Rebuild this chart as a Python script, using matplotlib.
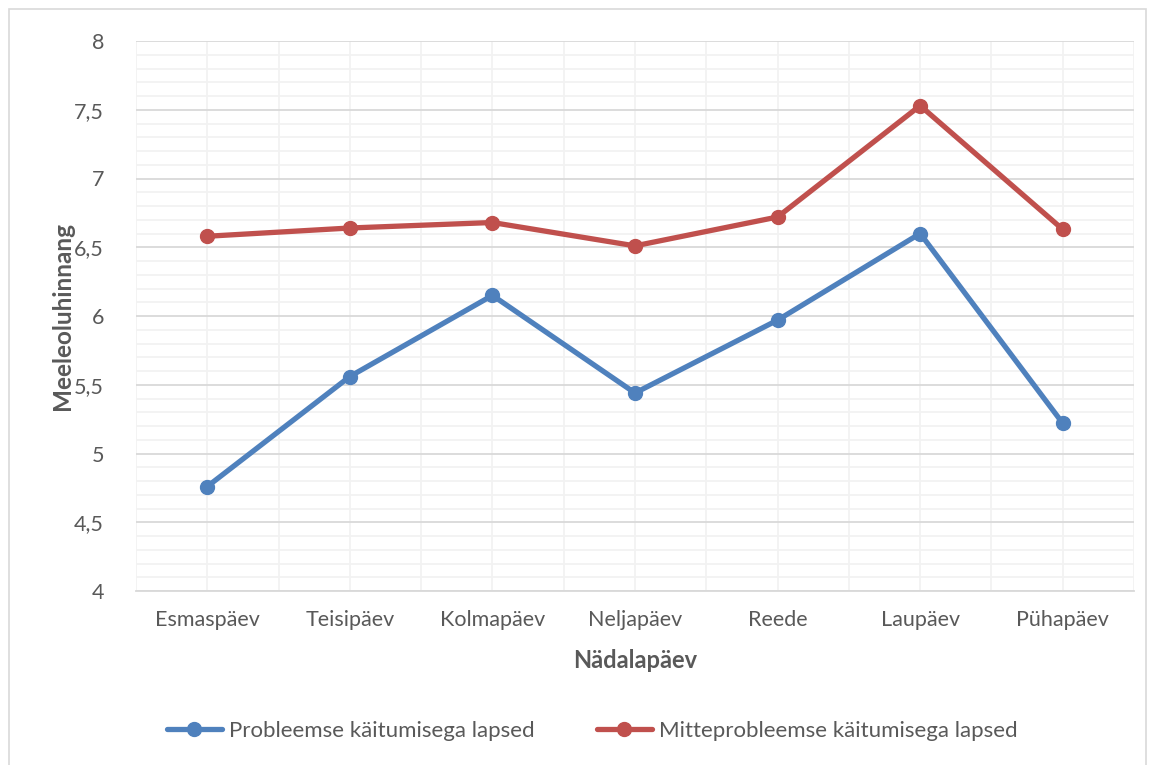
import matplotlib
matplotlib.use("Agg")
import matplotlib.pyplot as plt
from matplotlib.patches import Rectangle
from matplotlib.ticker import MultipleLocator, FuncFormatter

categories = ["Esmaspäev", "Teisipäev", "Kolmapäev", "Neljapäev", "Reede", "Laupäev", "Pühapäev"]
probleemse = [4.76, 5.56, 6.15, 5.44, 5.97, 6.60, 5.22]
mitteprobleemse = [6.58, 6.64, 6.68, 6.51, 6.72, 7.53, 6.63]
series_names = ["Probleemse käitumisega lapsed", "Mitteprobleemse käitumisega lapsed"]
y_label = "Meeleoluhinnang"
x_label = "Nädalapäev"

plt.rcParams['font.family'] = ['Lato', 'DejaVu Sans']
W, H = 1153, 765
fig = plt.figure(figsize=(W/100, H/100), dpi=100)
fig.patch.set_facecolor("white")
fig.patches.append(Rectangle((9/W, -0.01), (1146-9)/W, (H-9)/H + 0.01, transform=fig.transFigure,
                             fill=False, edgecolor="#D9D9D9", linewidth=1.2))

ax = fig.add_axes([136/W, 1-591/H, (1134-136)/W, (591-41)/H])
x = list(range(len(categories)))
blue = "#4F81BD"; red = "#C0504D"; txt = "#595959"
ax.plot(x, probleemse, color=blue, lw=3.8, marker="o", ms=10, label=series_names[0], zorder=3, solid_capstyle="round")
ax.plot(x, mitteprobleemse, color=red, lw=3.8, marker="o", ms=10, label=series_names[1], zorder=3, solid_capstyle="round")

ax.set_xlim(-0.5, 6.5)
ax.set_ylim(4, 8)
ax.yaxis.set_major_locator(MultipleLocator(0.5))
ax.yaxis.set_minor_locator(MultipleLocator(0.1))
ax.xaxis.set_minor_locator(MultipleLocator(0.5))
ax.set_xticks(x)
ax.set_xticklabels(categories)
ax.yaxis.set_major_formatter(FuncFormatter(lambda v, p: (f"{v:g}").replace(".", ",")))

ax.grid(True, which="minor", axis="both", color="#F2F2F2", lw=1.3, zorder=0)
ax.grid(True, which="major", axis="y", color="#D9D9D9", lw=1.3, zorder=1)
ax.grid(True, which="major", axis="x", color="#F2F2F2", lw=1.3, zorder=0)
ax.set_axisbelow(True)
for s in ["top", "right", "left"]:
    ax.spines[s].set_visible(False)
ax.spines["bottom"].set_color("#D9D9D9")
ax.spines["bottom"].set_linewidth(1.3)
ax.tick_params(which="both", length=0, colors=txt, labelsize=15.5)
ax.tick_params(axis="x", pad=14)
ax.tick_params(axis="y", pad=23)

fig.text(635/W, 1-661/H, x_label, ha="center", va="center", fontsize=17, fontweight="bold", color=txt)
fig.text(62/W, 1-316/H, y_label, ha="center", va="center", rotation=90, fontsize=17.5, fontweight="bold", color=txt)

leg = fig.legend(loc="center", bbox_to_anchor=(592/W, 1-731/H), ncol=2, frameon=False,
                 fontsize=16, handlelength=2.5, handletextpad=0.3, columnspacing=2.8)
for t in leg.get_texts():
    t.set_color(txt)

fig.savefig("out.png", dpi=100, facecolor="white")
